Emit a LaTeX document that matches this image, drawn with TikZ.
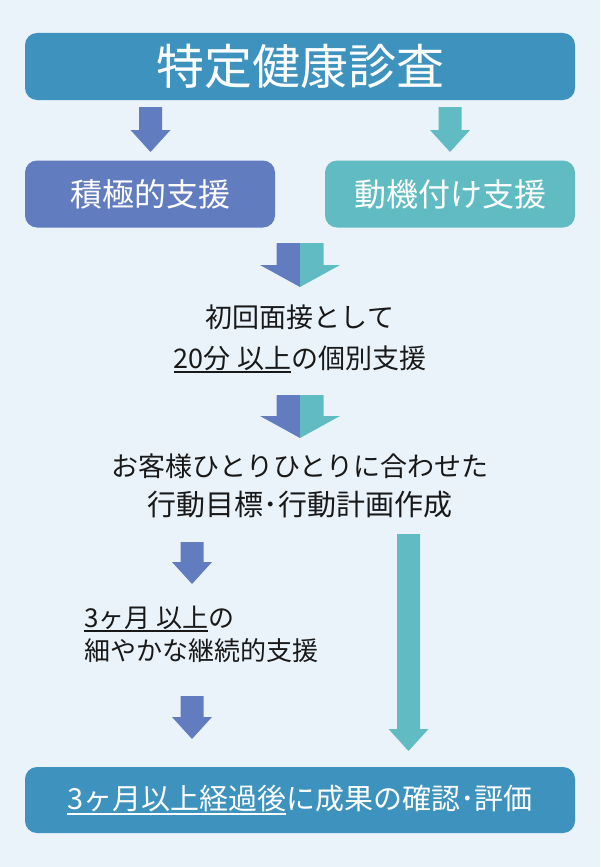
\documentclass[tikz,border=0pt]{standalone}
\usepackage{fontspec}
\setmainfont{Noto Sans CJK JP}
\definecolor{Main}{HTML}{3D93BE}
\definecolor{Blue}{HTML}{617CBF}
\definecolor{Teal}{HTML}{60BCC2}
\definecolor{Back}{HTML}{EAF3FA}
\usepackage{tikz}

\newcommand{\undertext}[1]{\setbox0\hbox{#1}\rlap{\rule[-0.17em]{\wd0}{0.07em}}\box0}
\newcommand{\flowarrow}[4]{% colour, x, top, tip
    \fill[#1] (#2-11.5,#3) -- (#2+11.5,#3) -- (#2+11.5,#4-22) -- (#2+20,#4-22)
    -- (#2,#4) -- (#2-20,#4-22) -- (#2-11.5,#4-22) -- cycle;}
\newcommand{\splitarrow}[2]{% top, tip
    \fill[Blue] (276.5,#1) -- (300,#1) -- (300,#2) -- (260,#2-22) -- (276.5,#2-22) -- cycle;
    \fill[Teal] (300,#1) -- (323.5,#1) -- (323.5,#2-22) -- (340,#2-22) -- (300,#2) -- cycle;}

\begin{document}
\begin{tikzpicture}
    [x=1pt, y=-1pt,
    box/.style={rounded corners=12pt, text=white, minimum height=67pt, inner sep=0pt},
    note/.style={text=black!90, inner sep=0pt, font=\fontsize{27}{41}\selectfont}]

    \fill[Back] (0,0) rectangle (600,867);

    \node[box, fill=Main, minimum width=550pt, font=\fontsize{48}{48}\selectfont] (kenshin) at (300,66.5) {特定健康診査}; % top
    \node[box, fill=Blue, minimum width=250pt, font=\fontsize{32}{32}\selectfont] (sekkyoku) at (150,194) {積極的支援};
    \node[box, fill=Teal, minimum width=250pt, font=\fontsize{32}{32}\selectfont] (douki) at (450,194) {動機付け支援};

    \flowarrow{Blue}{150.5}{107}{152}
    \flowarrow{Teal}{450}{107}{152}
    \splitarrow{243}{287}

    \node[note, align=center] (shokai) at (300,338.5) {初回面接として\\\undertext{20分 以上}の個別支援};

    \splitarrow{395}{438}

    \node[note, align=center, font=\fontsize{27}{39}\selectfont] (keikaku) at (300,485.5) {お客様ひとりひとりに合わせた\\{\fontsize{29}{39}\selectfont 行動目標･行動計画作成}};

    \flowarrow{Blue}{192}{542}{584}
    \node[note, align=left, anchor=west, font=\fontsize{26}{33}\selectfont] (keizoku) at (84,634.5) {\undertext{3ヶ月 以上}の\\細やかな継続的支援};
    \flowarrow{Blue}{192}{696}{739}
    \flowarrow{Teal}{408.5}{534}{751}

    \node[box, fill=Main, minimum width=550pt, minimum height=66pt, font=\fontsize{29}{29}\selectfont] (hyouka) at (300,800) {\undertext{3ヶ月以上経過後}に成果の確認･評価}; % bottom
\end{tikzpicture}
\end{document}
